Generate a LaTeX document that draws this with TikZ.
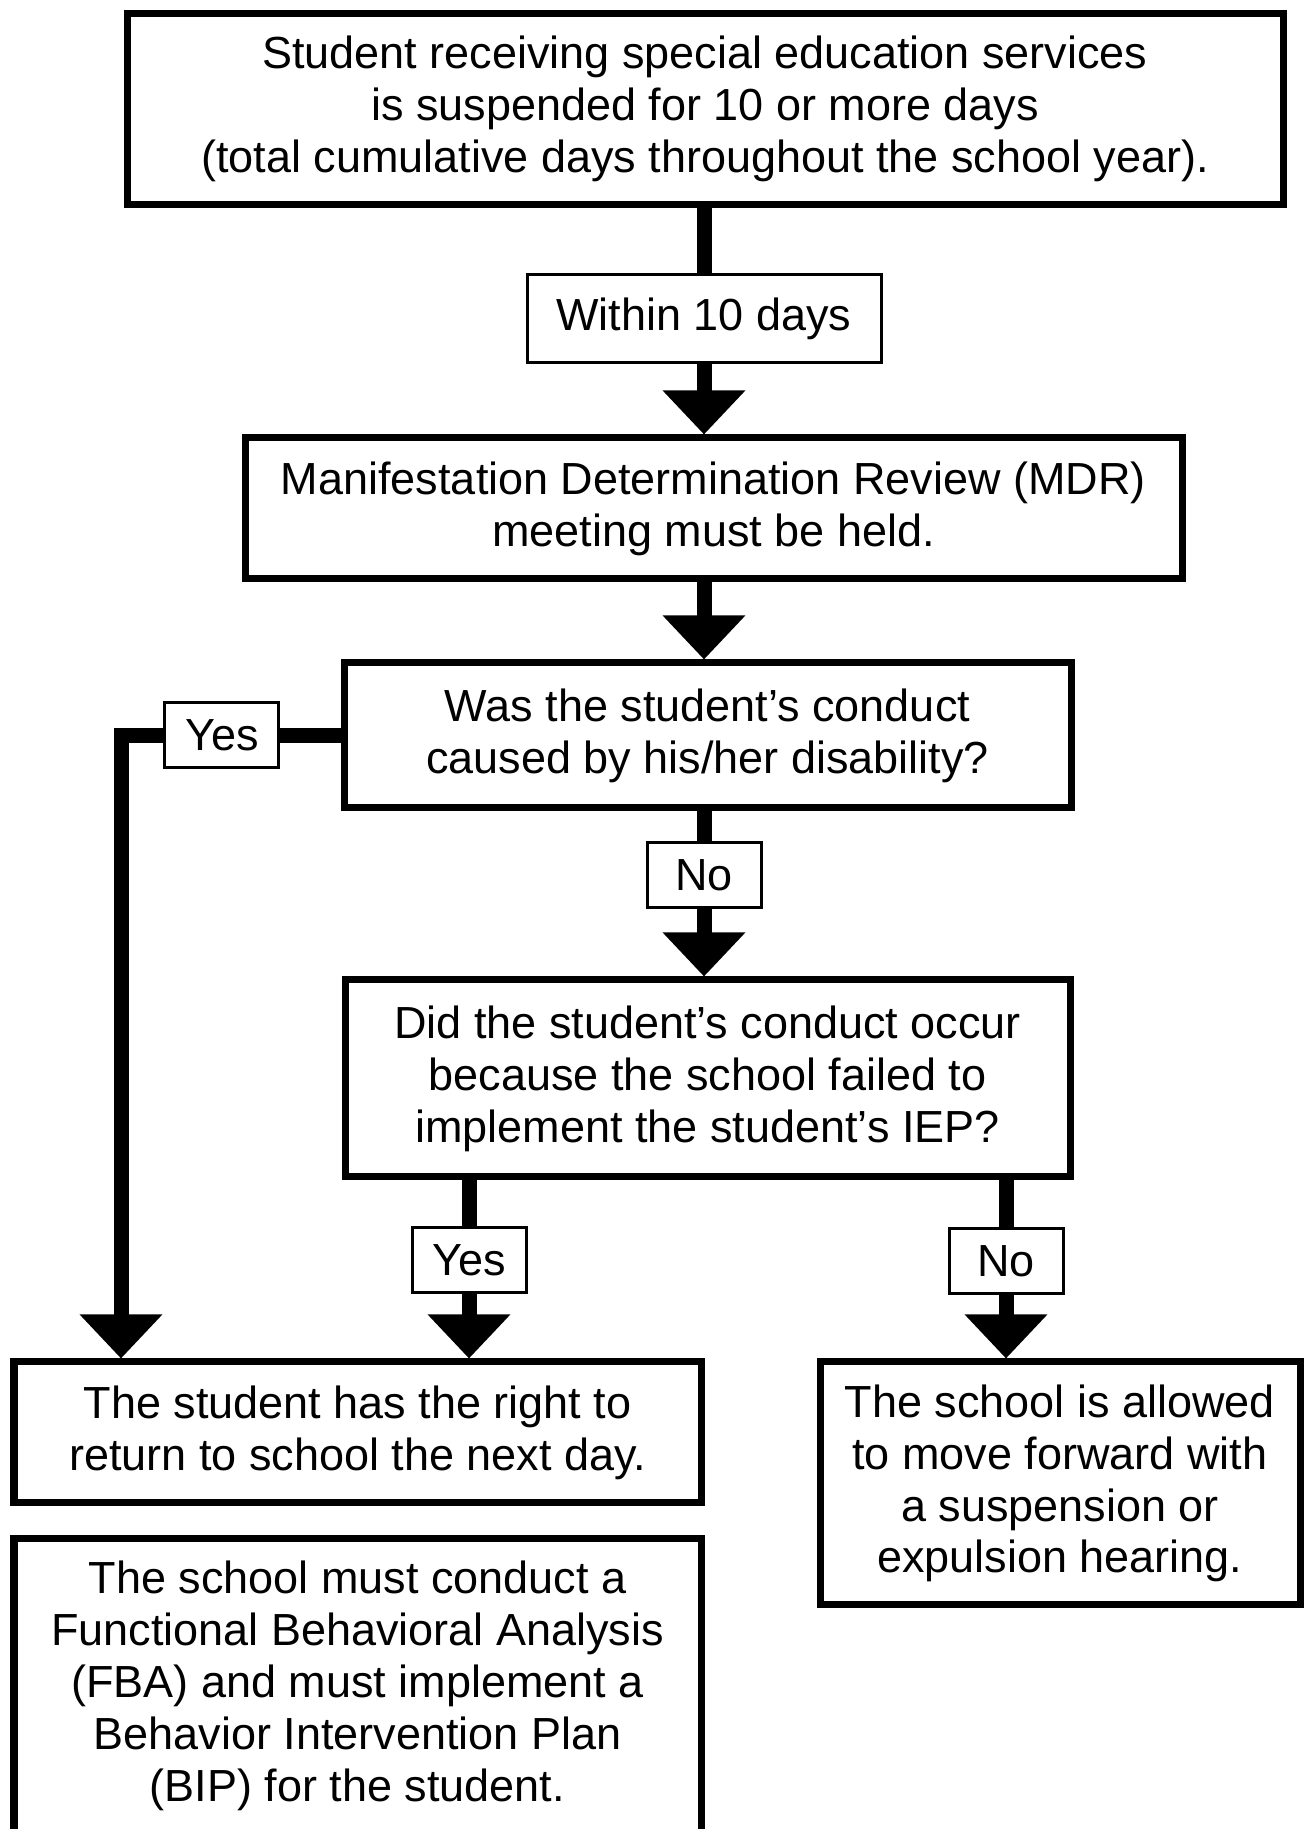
\documentclass[tikz,border=0pt]{standalone}
\usepackage{fontspec}
\setmainfont{Liberation Sans}
\usetikzlibrary{arrows.meta}
\tikzset{
  stepbox/.style={draw=black, line width=0.07cm, fill=white, inner sep=0pt, align=center},
  answer/.style={draw=black, line width=0.03cm, fill=white, inner sep=0pt, minimum width=1.14cm, minimum height=0.65cm},
  flow/.style={line width=0.15cm, draw=black, line cap=butt, line join=miter, -{Triangle[width=0.80cm,length=0.44cm]}},
}

\begin{document}
\begin{tikzpicture}[font=\fontsize{12.8}{14.77}\selectfont]
\useasboundingbox (0,0) rectangle (13.05,18.29);
\node[stepbox, minimum width=11.56cm, minimum height=1.915cm] (start) at (7.050,17.198) {Student receiving special education services\\is suspended for 10 or more days\\(total cumulative days throughout the school year).};
\node[stepbox, minimum width=9.37cm, minimum height=1.41cm] (mdr) at (7.135,13.205) {Manifestation Determination Review (MDR)\\meeting must be held.};
\node[stepbox, minimum width=7.27cm, minimum height=1.45cm] (cause) at (7.075,10.935) {Was the student’s conduct\\caused by his/her disability?};
\node[stepbox, minimum width=7.25cm, minimum height=1.97cm] (iep) at (7.075,7.505) {Did the student’s conduct occur\\because the school failed to\\implement the student’s IEP?};
\node[stepbox, minimum width=6.87cm, minimum height=1.41cm] (return) at (3.575,3.965) {The student has the right to\\return to school the next day.};
\node[stepbox, minimum width=4.80cm, minimum height=2.43cm] (hearing) at (10.600,3.455) {The school is allowed\\to move forward with\\a suspension or\\expulsion hearing.};
\node[stepbox, minimum width=6.87cm, inner ysep=0.22cm, anchor=north] (fba) at (3.575,2.935) {The school must conduct a\\Functional Behavioral Analysis\\(FBA) and must implement a\\Behavior Intervention Plan\\(BIP) for the student.\rule[-1.5cm]{0pt}{1.5cm}};

\coordinate (spine) at (7.040,0);
\coordinate (bend) at (1.210,10.935);
\coordinate (yesx) at (4.690,0);
\coordinate (nox) at (10.060,0);

\draw[flow] (start.south -| spine) -- node[answer, minimum width=3.54cm, minimum height=0.88cm, pos=0.487] {Within 10 days} (mdr.north -| spine);
\draw[flow] (mdr.south -| spine) -- (cause.north -| spine);
\draw[flow] (cause.south -| spine) -- node[answer, pos=0.385] {No} (iep.north -| spine);
\draw[flow] (cause.west) -- node[answer, pos=0.54] {Yes} (bend) -- (bend |- return.north);
\draw[flow] (iep.south -| yesx) -- node[answer, pos=0.447] {Yes} (return.north -| yesx);
\draw[flow] (iep.south -| nox) -- node[answer, pos=0.455] {No} (hearing.north -| nox);
\end{tikzpicture}
\end{document}
